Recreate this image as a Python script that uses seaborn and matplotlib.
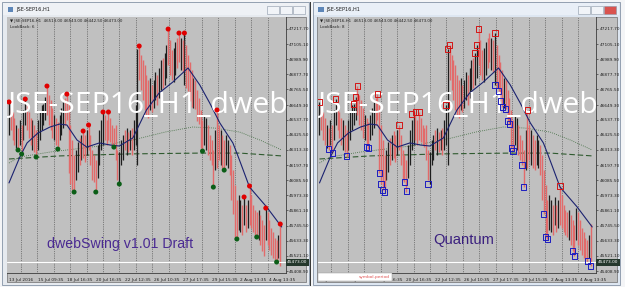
import numpy as np
import pandas as pd
import matplotlib
matplotlib.use("Agg")
import matplotlib.pyplot as plt
import matplotlib.transforms as mtrans
from matplotlib.patches import Rectangle
import seaborn as sns

# ---------------- data (H1 bars, JSE-SEP16) ----------------
bar_high = [46672, 46627, 46597, 46552, 46500, 46477, 46537, 46500, 46612, 46694,
            46649, 46597, 46552, 46537, 46500, 46462, 46537, 46597, 46649, 46657,
            46709, 46791, 46724, 46687, 46627, 46575, 46552, 46522, 46575, 46627,
            46672, 46701, 46731, 46649, 46500, 46388, 46275, 46313, 46373, 46403,
            46425, 46455, 46425, 46462, 46500, 46425, 46313, 46275, 46238, 46350,
            46462, 46537, 46597, 46575, 46537, 46597, 46552, 46500, 46477, 46500,
            46313, 46298, 46388, 46425, 46462, 46477, 46447, 46462, 46477, 46537,
            46649, 47068, 47098, 47023, 46986, 46948, 46873, 46836, 46851, 46799,
            46836, 46896, 46873, 46926, 46986, 47000, 47038, 47098, 47217, 47135,
            47060, 47075, 47120, 47150, 47187, 47150, 47135, 47187, 47098, 47023,
            46971, 46911, 46851, 46836, 46761, 46701, 46612, 46537, 46575, 46552,
            46500, 46425, 46388, 46313, 46462, 46612, 46500, 46462, 46425, 46388,
            46425, 46388, 46350, 46275, 46163, 46051, 45939, 45977, 45939, 45902,
            45962, 45902, 45939, 46044, 45977, 45902, 45864, 45850, 45864, 45827,
            45790, 45752, 45879, 45850, 45790, 45730, 45700, 45655, 45640, 45678,
            45760]
bar_low = [46425, 46462, 46388, 46350, 46328, 46313, 46350, 46290, 46388, 46500,
           46462, 46403, 46350, 46313, 46298, 46261, 46313, 46388, 46462, 46500,
           46537, 46575, 46500, 46462, 46403, 46388, 46350, 46320, 46388, 46425,
           46477, 46500, 46537, 46141, 46059, 46014, 45999, 46089, 46148, 46201,
           46238, 46253, 46223, 46275, 46313, 46201, 46089, 46074, 45999, 46104,
           46201, 46313, 46350, 46388, 46350, 46388, 46373, 46350, 46335, 46238,
           46089, 46059, 46201, 46238, 46313, 46275, 46298, 46313, 46275, 46313,
           46350, 46201, 46836, 46761, 46687, 46612, 46575, 46552, 46612, 46597,
           46627, 46687, 46649, 46701, 46761, 46776, 46799, 46851, 46948, 46873,
           46836, 46821, 46873, 46926, 46971, 46911, 46896, 46799, 46776, 46754,
           46679, 46634, 46627, 46619, 46530, 46507, 46328, 46305, 46350, 46313,
           46275, 46238, 46201, 46036, 46163, 46178, 46238, 46201, 46178, 46163,
           46201, 46178, 46126, 45939, 45835, 45663, 45648, 45715, 45700, 45678,
           45752, 45700, 45730, 45752, 45730, 45700, 45678, 45663, 45640, 45603,
           45558, 45521, 45640, 45603, 45566, 45528, 45506, 45491, 45476, 45506,
           45446]
bar_dir = ("krrrkrkrkk" "rrrkrrkkkk" "krrrrkrrkk" "krrrrrrkkr" "krrkrrrrrk"
           "kkkrrrrrrr" "rkkkrkrkrk" "kkrrrrrrkr" "kkrkkrkkrr" "rkkrrkrkrr"
           "rrkrrrrrkk" "rrrrkrrkrr" "kkrrrrrkkr" "krkrrrrrkr" "rrkrrrrrrk" "r")

# moving average (blue) read at sample bars
ma_bar = [0, 6, 10, 16, 22.7, 28, 32, 37.6, 43, 50, 56, 61, 68.5, 76, 83, 90.6,
          99, 105.5, 111, 116.6, 123.8, 126, 128.5, 133, 142.5, 150.8]
ma_val = [46067, 46261, 46366, 46440, 46485, 46507, 46500, 46388, 46335, 46366,
          46350, 46343, 46403, 46612, 46739, 46821, 46926, 46799, 46664, 46515,
          46366, 46290, 46200, 46036, 45887, 45738]
# long dotted curve and dashed line
dot_bar = [0, 6, 22.7, 50.3, 68.5, 86.2, 101.6, 113.8, 127.6, 138.7, 150.8]
dot_val = [46216, 46261, 46298, 46343, 46388, 46447, 46485, 46477, 46447, 46388, 46313]
dash_bar = [0, 28.2, 66.9, 105.5, 127.6, 150.8]
dash_val = [46246, 46269, 46284, 46290, 46290, 46269]

# dwebSwing swing points
swing_hi_bar = [0, 9, 21, 32, 41, 44, 52, 55, 72, 88, 94, 97, 115, 130, 133, 142, 150]
swing_hi_val = [46672, 46694, 46791, 46731, 46455, 46500, 46597, 46597, 47090, 47217,
                47187, 47187, 46612, 45962, 46044, 45879, 45760]
swing_lo_bar = [5, 7, 15, 27, 36, 48, 58, 61, 107, 113, 119, 126, 137, 148]
swing_lo_val = [46313, 46283, 46261, 46320, 45999, 45999, 46335, 46059, 46305, 46036,
                46163, 45648, 45663, 45476]
# Quantum marks
q_hi_bar = [0, 9, 19, 20, 21, 32, 44, 51, 53, 55, 70, 71, 72, 86, 87, 88, 97, 115, 133]
q_hi_val = [46672, 46694, 46657, 46709, 46791, 46731, 46500, 46582, 46597, 46597,
            46649, 47068, 47098, 47038, 47098, 47217, 47187, 46612, 46044]
q_lo_bar = [5, 7, 15, 26, 27, 33, 34, 35, 36, 47, 48, 60, 97, 99, 100, 101, 103, 104,
            105, 106, 107, 112, 113, 124, 125, 126, 140, 141, 148, 150]
q_lo_val = [46320, 46290, 46268, 46335, 46328, 46141, 46059, 46014, 45999, 46074,
            46007, 46059, 46799, 46754, 46679, 46634, 46619, 46530, 46507, 46328,
            46305, 46201, 46036, 45835, 45663, 45648, 45558, 45521, 45484, 45446]

price_now = 45473.00
ytick_vals = [47217.70, 47105.10, 46989.90, 46877.70, 46765.50, 46649.30, 46537.70,
              46425.50, 46313.30, 46197.70, 46085.50, 45973.30, 45861.10, 45745.50,
              45633.30, 45521.10, 45408.90]
xtick_bars = [0, 16, 32, 48, 64, 80, 96, 112, 128, 144]
xtick_text = ["13 Jul 2016", "15 Jul 09:35", "18 Jul 16:35", "20 Jul 16:35",
              "22 Jul 12:35", "26 Jul 10:35", "27 Jul 17:35", "29 Jul 15:35",
              "2 Aug 13:35", "4 Aug 13:35"]

bars = pd.DataFrame({"bar": np.arange(len(bar_high)), "high": bar_high,
                     "low": bar_low, "dir": list(bar_dir)})

# ---------------- figure ----------------
sns.set_theme(style="white")
plt.rcParams["font.family"] = ["DejaVu Sans"]
W, H = 625, 287
fig = plt.figure(figsize=(W / 100, H / 100), dpi=100)
fig.patch.set_facecolor("#f4f5f7")


def frect(x0, y0, x1, y1, fc, ec="none", lw=0.0, z=0):
    fig.add_artist(Rectangle((x0 / W, 1 - y1 / H), (x1 - x0) / W, (y1 - y0) / H,
                             transform=fig.transFigure, facecolor=fc,
                             edgecolor=ec, linewidth=lw, zorder=z))


def ftext(x, y, s, **kw):
    fig.text(x / W, 1 - y / H, s, **kw)


def chart(off, active, mode):
    frame = "#dde6f1" if active else "#e6eaef"
    frect(2 + off, 2, 309 + off, 285, frame, ec="#8593a6", lw=0.6, z=0)
    frect(3 + off, 3, 308 + off, 15, "#e9eff7" if active else "#eef1f5", z=0)
    frect(7.5 + off, 6.5, 13 + off, 12, "#5d86b8", z=1)
    ftext(16 + off, 9.8, "JSE-SEP16,H1", fontsize=3.6, va="center", color="#1b1b1b")
    for bx, fc in [(267, "#f1f4f8"), (280, "#f1f4f8"),
                   (293, "#d9534f" if active else "#f1f4f8")]:
        frect(bx + off, 6, bx + 12 + off, 13.5, fc, ec="#8a96a6", lw=0.4, z=1)
    frect(6.5 + off, 16.5, 306 + off, 281.5, "#c0c0c0", ec="#6e6e6e", lw=0.5, z=1)

    ax = fig.add_axes([(7 + off) / W, 1 - 273 / H, 278.5 / W, 256 / H])
    ax.set_zorder(2)
    ax.set_facecolor("#c0c0c0")
    ax.set_xlim(-1.1, 152.9)
    ax.set_ylim(45394, 47307)

    for gx in np.arange(6.5, 151, 9.1):
        ax.axvline(gx, color="#3a3a3a", lw=0.5, ls=(0, (1, 1.6)), zorder=1)

    sns.lineplot(x=dash_bar, y=dash_val, ax=ax, color="#2f5a2f", lw=0.8,
                 sort=False, estimator=None, zorder=2).lines[-1].set_dashes([5, 2.5])
    sns.lineplot(x=dot_bar, y=dot_val, ax=ax, color="#3d6b3d", lw=0.6,
                 sort=False, estimator=None, zorder=2).lines[-1].set_dashes([1, 1.5])

    up = bars[bars["dir"] == "k"]
    dn = bars[bars["dir"] == "r"]
    ax.vlines(up["bar"], up["low"], up["high"], colors="#1e1e1e", lw=0.9, zorder=3)
    ax.vlines(dn["bar"], dn["low"], dn["high"], colors="#e26a6a", lw=1.0, zorder=3)

    sns.lineplot(x=ma_bar, y=ma_val, ax=ax, color="#1b2270", lw=0.8,
                 sort=False, estimator=None, zorder=4)
    ax.axhline(price_now, color="white", lw=0.8, zorder=4)

    ax.text(-1.0, 46645, "JSE-SEP16_H1_dweb", fontsize=21.7, color="white",
            family="Open Sans", va="center", ha="left", clip_on=True, zorder=5)

    if mode == "dweb":
        sns.scatterplot(x=swing_hi_bar, y=swing_hi_val, ax=ax, color="#e00000",
                        s=13, edgecolor="none", zorder=6)
        sns.scatterplot(x=swing_lo_bar, y=swing_lo_val, ax=ax, color="#0b5e17",
                        s=13, edgecolor="none", zorder=6)
        ax.text(21, 45610, "dwebSwing v1.01 Draft", fontsize=10.2, color="#4a2a92",
                family="Liberation Sans", va="center", ha="left", zorder=6)
    else:
        sns.scatterplot(x=q_hi_bar, y=q_hi_val, ax=ax, marker="s", s=14,
                        facecolor="none", edgecolor="#d31515", linewidth=0.7, zorder=6)
        sns.scatterplot(x=q_lo_bar, y=q_lo_val, ax=ax, marker="s", s=14,
                        facecolor="none", edgecolor="#1c1cc0", linewidth=0.7, zorder=6)
        ax.text(62.7, 45637, "Quantum", fontsize=10.6, color="#3a1f7e",
                family="Liberation Sans", va="center", ha="left", zorder=6)

    for s in ["left", "top"]:
        ax.spines[s].set_visible(False)
    for s in ["right", "bottom"]:
        ax.spines[s].set_color("#3c3c3c")
        ax.spines[s].set_linewidth(0.6)
    ax.yaxis.tick_right()
    ax.set_yticks(ytick_vals)
    ax.set_yticklabels([f"{v:.2f}" for v in ytick_vals])
    ax.set_xticks(xtick_bars)
    ax.set_xticklabels(xtick_text)
    for lab in ax.get_xticklabels():
        lab.set_ha("left")
    ax.tick_params(axis="both", labelsize=3.1, colors="#202020", length=1.5,
                   width=0.4, pad=1.2, direction="out")
    ax.tick_params(axis="x", pad=1.8)
    ax.set_xlabel("")
    ax.set_ylabel("")
    tr = mtrans.blended_transform_factory(ax.transAxes, ax.transData)
    ax.text(1.006, price_now, f"{price_now:.2f}", transform=tr, fontsize=3.1,
            color="white", va="center", ha="left", zorder=7, clip_on=False,
            bbox=dict(boxstyle="square,pad=0.35", fc="#24382c", ec="none"))
    ftext(10 + off, 21, "\u25bc JSE-SEP16,H1  46513.00 46543.00 46442.50 46473.00",
          fontsize=2.9, color="#202020", va="center", zorder=8)
    ftext(10 + off, 27, "LookBack: 6" if mode == "dweb" else "LookBack: 8",
          fontsize=2.9, color="#202020", va="center", zorder=8)
    if mode == "quant":
        frect(317.5, 272.5, 392, 281, "white", ec="#909090", lw=0.3, z=9)
        ftext(390, 276.8, "symbol.period", fontsize=3.2, color="#e05050",
              va="center", ha="right", zorder=10)
    return ax


chart(0, False, "dweb")
frect(309.5, 2, 310.5, 286, "#3a3a3a", z=1)
chart(310.5, True, "quant")

fig.savefig("out.png", dpi=100, facecolor=fig.get_facecolor())
